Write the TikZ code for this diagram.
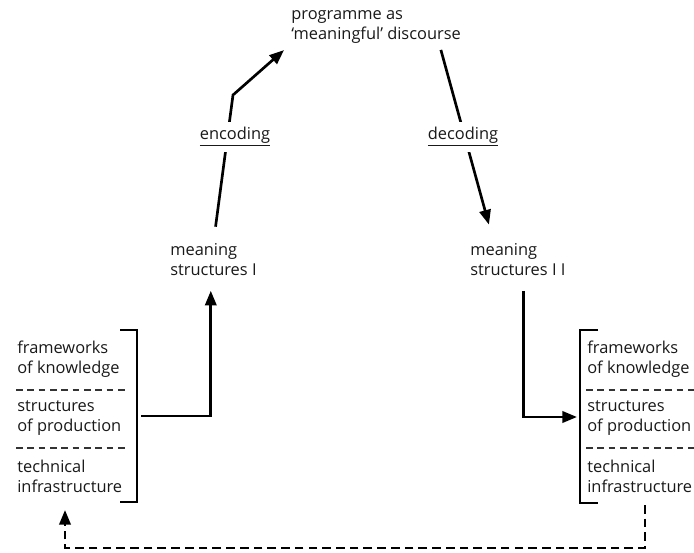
\documentclass[tikz,border=0pt]{standalone}
\usepackage{fontspec}
\setmainfont{Open Sans}
\usetikzlibrary{arrows.meta}

\tikzset{every picture/.style={line width=2pt}}
\tikzset{
  txt/.style={font=\fontsize{12.3}{15}\selectfont, text=black!90, align=left, inner sep=0pt, anchor=west},
  arr/.style={-{Triangle[length=11pt,width=8.5pt]}},
  sep/.style={line width=1pt, dash pattern=on 5pt off 3.5pt, black!80},
  fb/.style={line width=2pt, dash pattern=on 6.5pt off 3.8pt}
}

\begin{document}
\begin{tikzpicture}[x=0.75pt,y=0.75pt,yscale=-1,xscale=1]
\useasboundingbox (0,0) rectangle (694,553);

% Text Node
\node[txt] (prog) at (290,27) {programme as\\`meaningful' discourse};
% Text Node
\node[txt] (msone) at (169,260) {meaning\\structures I};
% Text Node
\node[txt] (mstwo) at (469,260) {meaning\\structures I I};

%left block
\node[txt] (fkl) at (16,359) {frameworks\\of knowledge};
\node[txt] (spl) at (16,418) {structures\\of production};
\node[txt] (til) at (16,476) {technical\\infrastructure};
\draw[sep] (16,390) -- (126,390);
\draw[sep] (16,448) -- (126,448);
\draw (120,330) -- (137,330) -- (137,502) -- (120,502);
\coordinate (lbr) at (141,416);

%right block
\node[txt] (fkr) at (586,359) {frameworks\\of knowledge};
\node[txt] (spr) at (586,418) {structures\\of production};
\node[txt] (tir) at (586,476) {technical\\infrastructure};
\draw[sep] (586,390) -- (694,390);
\draw[sep] (586,448) -- (694,448);
\draw (598,330) -- (580,330) -- (580,503) -- (598,503);
\coordinate (rbr) at (577,417);

%encoding / decoding
\coordinate (kink) at (233,95);
\draw[arr, shorten <=12pt, shorten >=6pt] (msone.north) -- (kink) -- (prog.south west);
\draw[arr, shorten <=4pt, shorten >=14pt] ([xshift=-17pt]prog.south east) -- ([xshift=-18pt]mstwo.north);
\node[txt, anchor=center, fill=white, inner sep=4pt] (enc) at (235,137) {\underline{encoding}};
\node[txt, anchor=center, fill=white, inner sep=4pt] (dec) at (463,137) {\underline{decoding}};

%into and out of the blocks
\draw[arr, shorten >=10pt] (lbr) -| ([xshift=-2pt]msone.south);
\draw[arr, shorten <=10pt] ([xshift=4pt]mstwo.south) |- (rbr);

%feedback
\coordinate (fbr) at (645,505);
\coordinate (fbl) at (65,510);
\draw[fb, arr] (fbr) -- ++(0,43) -| (fbl);

\end{tikzpicture}
\end{document}
